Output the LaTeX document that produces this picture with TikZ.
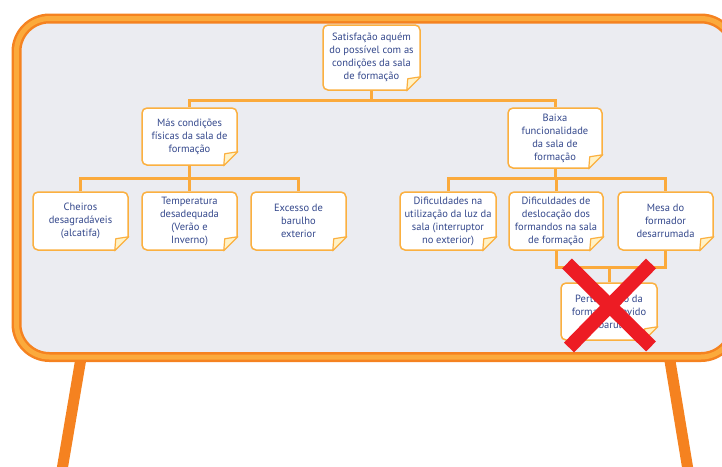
\documentclass[tikz,border=0pt]{standalone}
\usepackage{fontspec}
\setmainfont{PT Sans}
\usetikzlibrary{calc}

\definecolor{boardedge}{HTML}{F58220}
\definecolor{boardband}{HTML}{FBAA3C}
\definecolor{boardfill}{HTML}{EBECF1}
\definecolor{noteedge}{HTML}{FBB040}
\definecolor{notefold}{HTML}{FFF2C6}
\definecolor{inkblue}{HTML}{34488C}
\definecolor{crossred}{HTML}{ED1C24}

\tikzset{
  note/.style={draw=noteedge, line width=1.5pt, fill=white, rounded corners=5pt,
    align=center, text=inkblue, font=\fontsize{10.5}{13}\selectfont,
    minimum width=95pt, minimum height=58pt, inner sep=1pt},
  conn/.style={draw=boardband, line width=3pt},
  leg/.style={draw=boardedge, line width=11pt},
  cross/.style={draw=crossred, line width=14pt},
  boardrim/.style={draw=boardedge, line width=10pt, fill=boardfill, rounded corners=33pt},
  boardstripe/.style={draw=boardband, line width=5pt, rounded corners=33pt},
}

% turned-up corner at the lower right of a note
\newcommand\foldcorner[1]{%
  \fill[boardfill] ($(#1.south east)+(-16,2)$) -- ($(#1.south east)+(2,2)$)
    -- ($(#1.south east)+(2,-16)$) -- cycle;
  \filldraw[fill=notefold, draw=noteedge, line width=1.2pt, line join=round]
    ($(#1.south east)+(-14,0)$) -- ($(#1.south east)+(0,-14)$)
    .. controls ($(#1.south east)+(-6,-13)$) .. ($(#1.south east)+(-13,-12)$)
    -- cycle;
}

\begin{document}
\begin{tikzpicture}[x=1pt,y=-1pt]
\useasboundingbox (0,0) rectangle (722,466);
\clip (0,0) rectangle (722,466);

% easel legs
\draw[leg] (81,358) -- (62,470);
\draw[leg] (669.5,358) -- (688,470);

% board
\path[boardrim] (16.5,18.5) rectangle (734,357);
\path[boardstripe] (16.5,18.5) rectangle (734,357);

% notes
\node[note, minimum width=97pt, minimum height=65pt] (root) at (371.5,57.5)
  {Satisfação aquém\\do possível com as\\condições da sala\\de formação};
\node[note, minimum height=57pt] (m1) at (189.5,136.5)
  {Más condições\\físicas da sala de\\formação};
\node[note, minimum width=94pt, minimum height=60pt] (m2) at (555,138)
  {Baixa\\funcionalidade\\da sala de\\formação};

\node[note] (c1) at (80.5,221) {Cheiros\\desagradáveis\\(alcatifa)};
\node[note] (c2) at (189.5,221) {Temperatura\\desadequada\\(Verão e\\Inverno)};
\node[note] (c3) at (298.5,221) {Excesso de\\barulho\\exterior};

\node[note, minimum width=96pt] (d1) at (448,221)
  {Dificuldades na\\utilização da luz da\\sala (interruptor\\no exterior)};
\node[note, minimum width=94pt] (d2) at (556,221)
  {Dificuldades de\\deslocação dos\\formandos na sala\\de formação};
\node[note] (d3) at (665.5,221) {Mesa do\\formador\\desarrumada};

\node[note, minimum width=96pt, minimum height=57pt] (last) at (609,311.5)
  {Perturbação da\\formação devido\\ao barulho};

\foreach \n in {root,m1,m2,c1,c2,c3,d1,d2,d3,last} {\foldcorner{\n}}

% connectors
\draw[conn] (root.south) -- ++(0,10) -| (m1.north);
\draw[conn] (root.south) -- ++(0,10) -| (m2.north);
\draw[conn] (m1.south) -- ++(0,13) -| (c1.north);
\draw[conn] (m1.south) -- ++(0,13) -| (c2.north);
\draw[conn] (m1.south) -- ++(0,13) -| (c3.north);
\draw[conn] (m2.south) -- ++(0,10) -| (d1.north);
\draw[conn] (m2.south) -- ++(0,10) -| (d2.north);
\draw[conn] (m2.south) -- ++(0,10) -| (d3.north);
\coordinate (joint) at ($(last.north)+(0,-15)$);
\draw[conn] (d2.south) |- (joint) -- (last.north);
\draw[conn] (d3.south) |- (joint);

% struck-out cause
\draw[cross] ($(last.center)+(-42,-48)$) -- ($(last.center)+(42,35)$);
\draw[cross] ($(last.center)+(42,-48)$) -- ($(last.center)+(-40,36)$);
\end{tikzpicture}
\end{document}
